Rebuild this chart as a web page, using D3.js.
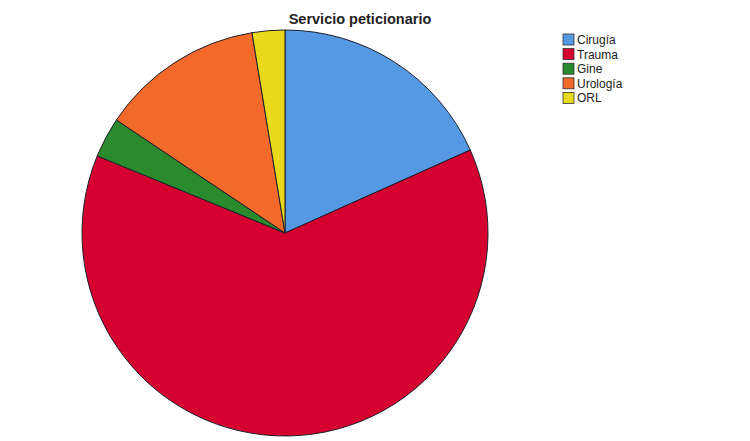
<!DOCTYPE html>
<html lang="en">
<head>
<meta charset="UTF-8">
<title>Servicio peticionario</title>
<script src="https://cdn.jsdelivr.net/npm/d3@7"></script>
<style>
  body { margin: 0; background: #fff; }
  text { font-family: "Liberation Sans", Arial, sans-serif; }
</style>
</head>
<body>
<script>
  // data (percent of total)
  const categories = ["Cirugía", "Trauma", "Gine", "Urología", "ORL"];
  const values = [18.3, 62.9, 3.2, 13.0, 2.6];
  const colors = ["#5598e4", "#d5002f", "#2a8a2e", "#f2692a", "#e8d91a"];

  const width = 750, height = 441;
  const cx = 285, cy = 233, r = 203;

  const svg = d3.select("body").append("svg")
    .attr("width", width)
    .attr("height", height);

  svg.append("text")
    .attr("x", 360)
    .attr("y", 24)
    .attr("text-anchor", "middle")
    .attr("font-size", 14.5)
    .attr("font-weight", "bold")
    .attr("fill", "#222")
    .text("Servicio peticionario");

  const color = d3.scaleOrdinal().domain(categories).range(colors);

  const pie = d3.pie().sort(null).value((d, i) => values[i]);
  const arc = d3.arc().innerRadius(0).outerRadius(r);

  svg.append("g")
    .attr("transform", `translate(${cx},${cy})`)
    .selectAll("path")
    .data(pie(categories))
    .join("path")
    .attr("d", arc)
    .attr("fill", d => color(d.data))
    .attr("stroke", "#1e1e2a")
    .attr("stroke-width", 1);

  const legend = svg.append("g").attr("transform", "translate(563,34)");
  const row = d3.scaleBand().domain(categories).range([0, 73]);

  const items = legend.selectAll("g")
    .data(categories)
    .join("g")
    .attr("transform", d => `translate(0,${row(d)})`);

  items.append("rect")
    .attr("width", 11)
    .attr("height", 11)
    .attr("fill", d => color(d))
    .attr("stroke", "#333")
    .attr("stroke-width", 0.8);

  items.append("text")
    .attr("x", 14)
    .attr("y", 10)
    .attr("font-size", 12)
    .attr("fill", "#222")
    .text(d => d);
</script>
</body>
</html>
